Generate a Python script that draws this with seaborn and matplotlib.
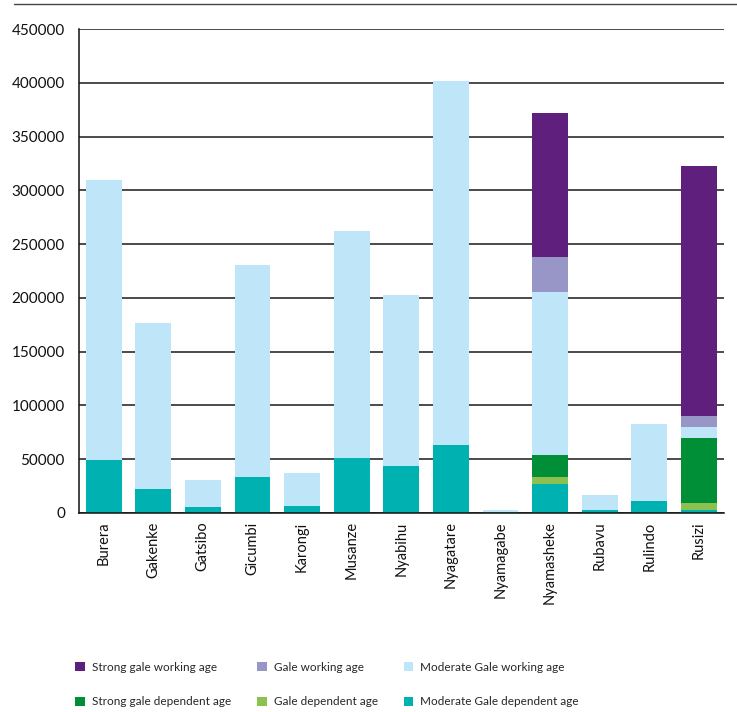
import pandas as pd
import matplotlib
matplotlib.use("Agg")
import matplotlib.pyplot as plt
import seaborn as sns
import numpy as np
from matplotlib.patches import Patch
from matplotlib.lines import Line2D

districts = ["Burera", "Gakenke", "Gatsibo", "Gicumbi", "Karongi", "Musanze", "Nyabihu",
             "Nyagatare", "Nyamagabe", "Nyamasheke", "Rubavu", "Rulindo", "Rusizi"]

# stacked from the bottom up
moderate_dependent = [49300, 22300, 5600, 33500, 6500, 51100, 43700, 63200, 1200, 27000, 2800, 11200, 2800]
gale_dependent     = [0, 0, 0, 0, 0, 0, 0, 0, 0, 6500, 0, 0, 6500]
strong_dependent   = [0, 0, 0, 0, 0, 0, 0, 0, 0, 20400, 0, 0, 60400]
moderate_working   = [260200, 154300, 25100, 197000, 30700, 210900, 158900, 338300, 1200, 151500, 13900, 71500, 10200]
gale_working       = [0, 0, 0, 0, 0, 0, 0, 0, 0, 32500, 0, 0, 10200]
strong_working     = [0, 0, 0, 0, 0, 0, 0, 0, 0, 133800, 0, 0, 232400]

series = [
    ("Moderate Gale dependent age", moderate_dependent, "#00b1b2"),
    ("Gale dependent age", gale_dependent, "#8dc14f"),
    ("Strong gale dependent age", strong_dependent, "#008f37"),
    ("Moderate Gale working age", moderate_working, "#bfe5f8"),
    ("Gale working age", gale_working, "#9896c7"),
    ("Strong gale working age", strong_working, "#5f1f7d"),
]

sns.set_style("white")
plt.rcParams["font.family"] = ["Lato", "DejaVu Sans"]

fig = plt.figure(figsize=(7.37, 7.12), dpi=100)
ax = fig.add_axes([0.107, 0.2795, 0.875, 0.6795])

# cumulative totals, drawn from the tallest down so each layer covers the one below
cum = np.cumsum([np.array(s[1]) for s in series], axis=0)
for i in range(len(series) - 1, -1, -1):
    df = pd.DataFrame({"district": districts, "value": cum[i]})
    sns.barplot(data=df, x="district", y="value", color=series[i][2], width=0.72,
                saturation=1, ax=ax, errorbar=None, linewidth=0, edgecolor="none")

ax.set_ylim(0, 450000)
ax.set_xlim(-0.5, 12.5)
ax.set_yticks(np.arange(0, 450001, 50000))
ax.yaxis.grid(True, color="#1a1a1a", linewidth=1.1)
ax.xaxis.grid(False)
ax.set_axisbelow(True)
ax.set_xlabel("")
ax.set_ylabel("")
ax.tick_params(axis="y", length=0, labelsize=11, colors="#111111", pad=10)
ax.tick_params(axis="x", length=0, labelsize=10.5, colors="#111111", pad=6)
plt.setp(ax.get_xticklabels(), rotation=90)
for side in ["top", "right"]:
    ax.spines[side].set_visible(False)
ax.spines["left"].set_color("#111111")
ax.spines["bottom"].set_color("#111111")
ax.spines["left"].set_linewidth(1.1)
ax.spines["bottom"].set_linewidth(1.1)

# top rule
fig.add_artist(Line2D([0.019, 1.0], [0.994, 0.994], color="#444444", linewidth=1.0))

lut = {s[0]: s[2] for s in series}
order = ["Strong gale working age", "Strong gale dependent age",
         "Gale working age", "Gale dependent age",
         "Moderate Gale working age", "Moderate Gale dependent age"]
handles = [Patch(facecolor=lut[n], edgecolor="none", label=n) for n in order]
fig.legend(handles=handles, loc="lower left", bbox_to_anchor=(0.096, 0.0), ncol=3,
           frameon=False, fontsize=8.5, handlelength=0.8, handleheight=0.8,
           handletextpad=0.6, columnspacing=2.2, labelspacing=2.0, borderaxespad=0)

fig.savefig("out.png", dpi=100)
